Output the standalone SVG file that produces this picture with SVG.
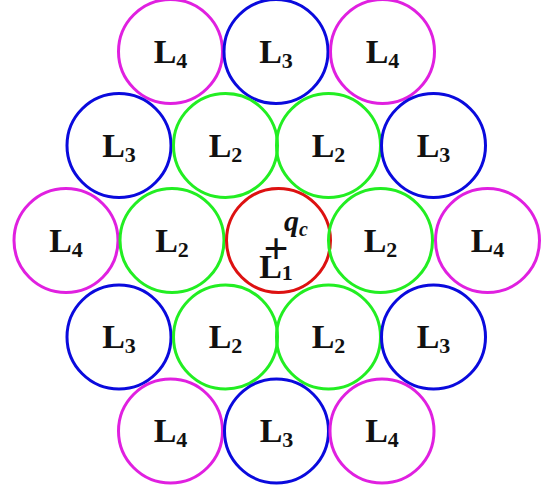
<svg xmlns="http://www.w3.org/2000/svg" width="544" height="493" viewBox="0 0 544 493">
<style>
circle{fill:none;stroke-width:3}
.m{stroke:#e020e0}.b{stroke:#0a0add}.g{stroke:#22ee22}.r{stroke:#dd1111}
text{font-family:"Liberation Serif","Times New Roman",serif;font-weight:bold;fill:#111;text-anchor:middle;font-size:34px}
.s{font-size:22px}
.plus{font-size:44px}
.q{font-size:30px;font-style:italic;text-anchor:start}
.qs{font-size:20px}
</style>
<rect width="544" height="493" fill="#fff"/>
<g id="n1"><circle class="m" cx="170.5" cy="51.5" r="52"/><text x="170.5" y="63">L<tspan class="s" dy="5">4</tspan></text></g>
<g id="n2"><circle class="b" cx="276" cy="51.5" r="52"/><text x="276" y="63">L<tspan class="s" dy="5">3</tspan></text></g>
<g id="n3"><circle class="m" cx="382.5" cy="51.5" r="52"/><text x="382.5" y="63">L<tspan class="s" dy="5">4</tspan></text></g>
<g id="n4"><circle class="b" cx="119" cy="145.5" r="52"/><text x="119" y="157">L<tspan class="s" dy="5">3</tspan></text></g>
<g id="n5"><circle class="g" cx="225.5" cy="145.5" r="52"/><text x="225.5" y="157">L<tspan class="s" dy="5">2</tspan></text></g>
<g id="n6"><circle class="g" cx="328.5" cy="145.5" r="52"/><text x="328.5" y="157">L<tspan class="s" dy="5">2</tspan></text></g>
<g id="n7"><circle class="b" cx="433.5" cy="145.5" r="52"/><text x="433.5" y="157">L<tspan class="s" dy="5">3</tspan></text></g>
<g id="n8"><circle class="m" cx="66" cy="240.5" r="52"/><text x="66" y="252">L<tspan class="s" dy="5">4</tspan></text></g>
<g id="n9"><circle class="g" cx="172" cy="240.5" r="52"/><text x="172" y="252">L<tspan class="s" dy="5">2</tspan></text></g>
<g id="n10"><circle class="r" cx="278.5" cy="240.5" r="52"/>
<text class="plus" x="276" y="263">+</text>
<text x="276" y="278">L<tspan class="s" dy="2">1</tspan></text>
<text class="q" x="284" y="231">q<tspan class="qs" dy="5">c</tspan></text></g>
<g id="n11"><circle class="g" cx="380.5" cy="240.5" r="52"/><text x="380.5" y="252">L<tspan class="s" dy="5">2</tspan></text></g>
<g id="n12"><circle class="m" cx="487.5" cy="240.5" r="52"/><text x="487.5" y="252">L<tspan class="s" dy="5">4</tspan></text></g>
<g id="n13"><circle class="b" cx="119" cy="337" r="52"/><text x="119" y="348">L<tspan class="s" dy="5">3</tspan></text></g>
<g id="n14"><circle class="g" cx="225.5" cy="337" r="52"/><text x="225.5" y="348">L<tspan class="s" dy="5">2</tspan></text></g>
<g id="n15"><circle class="g" cx="328.5" cy="337" r="52"/><text x="328.5" y="348">L<tspan class="s" dy="5">2</tspan></text></g>
<g id="n16"><circle class="b" cx="433.5" cy="337" r="52"/><text x="433.5" y="348">L<tspan class="s" dy="5">3</tspan></text></g>
<g id="n17"><circle class="m" cx="170.5" cy="431" r="52"/><text x="170.5" y="442">L<tspan class="s" dy="5">4</tspan></text></g>
<g id="n18"><circle class="b" cx="276.5" cy="431" r="52"/><text x="276.5" y="442">L<tspan class="s" dy="5">3</tspan></text></g>
<g id="n19"><circle class="m" cx="382" cy="431" r="52"/><text x="382" y="442">L<tspan class="s" dy="5">4</tspan></text></g>
<g id="connectors"></g>
</svg>
